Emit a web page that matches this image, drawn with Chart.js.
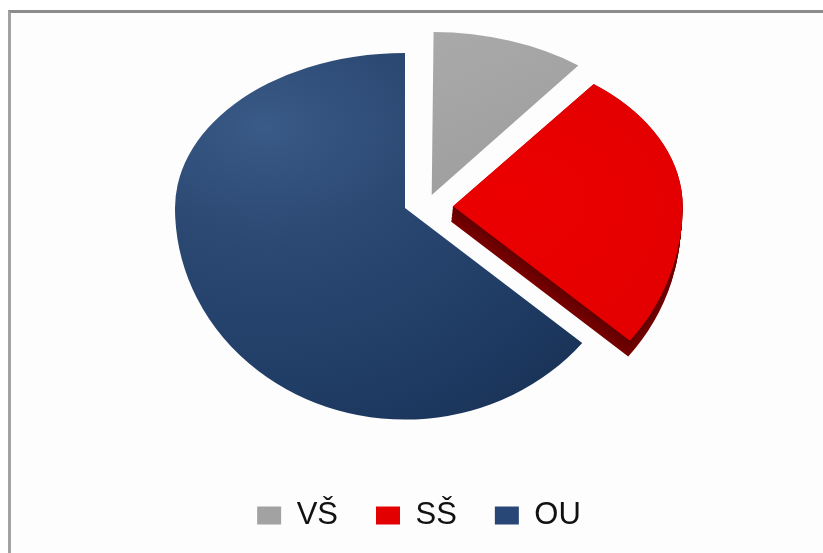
<!DOCTYPE html>
<html>
<head>
<meta charset="utf-8">
<script src="https://cdn.jsdelivr.net/npm/chart.js@4/dist/chart.umd.min.js"></script>
<style>
html,body{margin:0;padding:0;background:#ffffff;}
#wrap{position:relative;width:823px;height:553px;overflow:hidden;}
#frame{position:absolute;left:8px;top:10px;width:900px;height:700px;border-left:3px solid #a2a2a2;border-top:3px solid #8c8c8c;background:#fdfdfd;}
#c{position:absolute;left:0;top:0;}
</style>
</head>
<body>
<div id="wrap"><div id="frame"></div><canvas id="c" width="823" height="553"></canvas></div>
<script>
// ---- data ----
const categories = ['VŠ', 'SŠ', 'OU'];
const shares = [10.5, 25.5, 64];
const sliceColors = ['#a4a4a4', '#e60000', '#213d67'];
const legendColors = ['#a2a2a2', '#e30000', '#284777'];
const explode = [120, 192, 0];

// pseudo-3D tilt: draws the library's own arcs through a flattening transform
const pseudo3d = {
  id: 'pseudo3d',
  beforeDatasetsDraw(chart, args, o) {
    const ctx = chart.ctx;
    const meta = chart.getDatasetMeta(0);
    const arcs = meta.data;
    if (!arcs.length) return;
    const cx = arcs[0].x, cy = arcs[0].y;
    const halves = [[0, o.centerY, o.tiltTop], [o.centerY, chart.height, o.tiltBottom]];
    for (const [y0, y1, k] of halves) {
      ctx.save();
      ctx.beginPath();
      ctx.rect(0, y0, chart.width, y1 - y0);
      ctx.clip();
      ctx.translate(o.centerX, o.centerY);
      ctx.scale(1, k);
      ctx.translate(-cx, -cy);
      // side wall of the exploded SŠ slice
      for (let d = o.depth; d > 0; d -= 1.5) {
        ctx.save();
        ctx.translate(o.perspective[1][0] - d * 0.1, o.perspective[1][1] + d);
        ctx.filter = 'brightness(' + (0.42 + 0.1 * d / o.depth) + ')';
        arcs[1].draw(ctx);
        ctx.restore();
      }
      arcs.forEach((arc, i) => {
        const n = o.perspective[i];
        ctx.save();
        ctx.translate(n[0], n[1]);
        arc.draw(ctx);
        ctx.restore();
      });
      ctx.restore();
    }
    return false;
  }
};

function sliceFill(context) {
  const i = context.dataIndex;
  const chart = context.chart;
  const a = chart.chartArea;
  if (!a) return sliceColors[i];
  const cx = (a.left + a.right) / 2, cy = (a.top + a.bottom) / 2;
  const g = chart.ctx;
  if (i === 2) {
    const gr = g.createRadialGradient(cx - 140, cy - 120, 0, cx - 140, cy - 120, 420);
    gr.addColorStop(0, '#3a5a87');
    gr.addColorStop(0.4, '#2a4872');
    gr.addColorStop(0.75, '#203d66');
    gr.addColorStop(1, '#1a3358');
    return gr;
  }
  if (i === 1) {
    const gr = g.createRadialGradient(cx + 60, cy - 20, 10, cx + 60, cy, 260);
    gr.addColorStop(0, '#ec0000');
    gr.addColorStop(0.8, '#e20000');
    gr.addColorStop(1, '#cf0000');
    return gr;
  }
  const gr = g.createLinearGradient(cx, cy - 230, cx + 150, cy);
  gr.addColorStop(0, '#a9a9a9');
  gr.addColorStop(1, '#9c9c9c');
  return gr;
}

new Chart(document.getElementById('c'), {
  type: 'pie',
  data: {
    labels: categories,
    datasets: [{
      data: shares,
      backgroundColor: sliceFill,
      borderWidth: 0,
      offset: explode,
      radius: 230
    }]
  },
  plugins: [pseudo3d],
  options: {
    responsive: false,
    animation: false,
    events: [],
    layout: { padding: { left: 15, right: 0, top: 0, bottom: 12 } },
    plugins: {
      tooltip: { enabled: false },
      pseudo3d: {
        centerX: 405, centerY: 208, tiltTop: 0.674, tiltBottom: 0.92, depth: 17,
        perspective: [[17, 9], [0, 3], [0, 0]]
      },
      legend: {
        position: 'bottom',
        labels: {
          font: { family: "'Liberation Sans', Arial, sans-serif", size: 31 },
          color: '#111111',
          boxWidth: 24,
          boxHeight: 18,
          padding: 38,
          generateLabels: () => categories.map((t, i) => ({
            text: t, fillStyle: legendColors[i], strokeStyle: legendColors[i],
            lineWidth: 0, hidden: false, index: i, fontColor: '#111111'
          }))
        }
      }
    }
  }
});
</script>
</body>
</html>
